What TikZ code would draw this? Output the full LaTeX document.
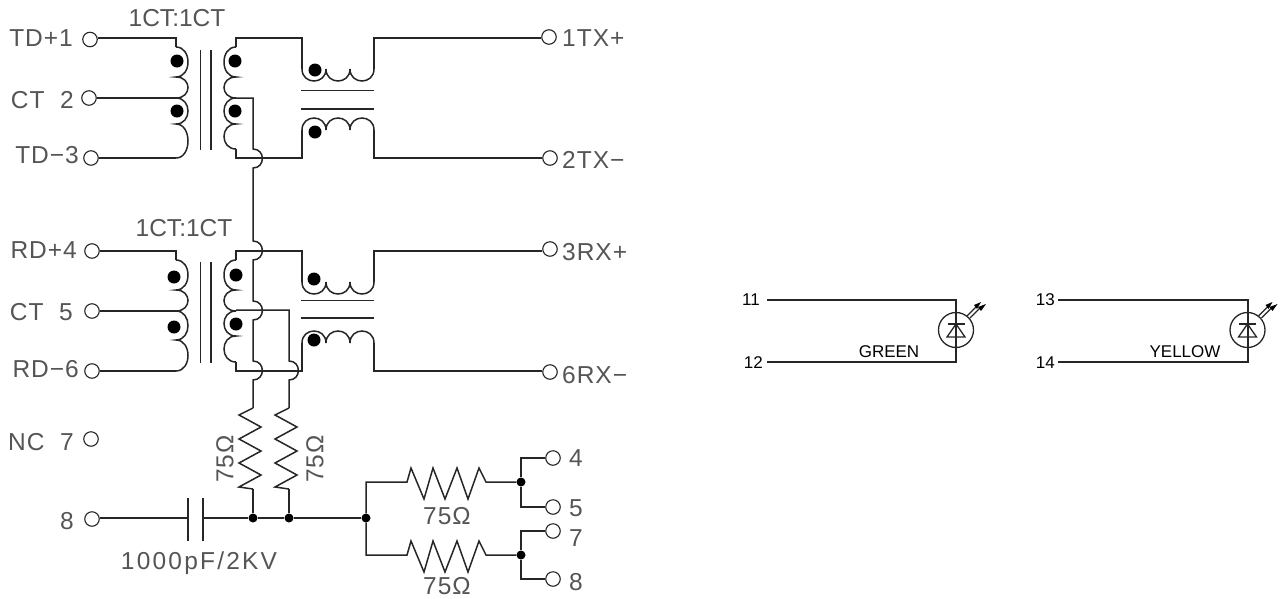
\documentclass[tikz,border=0pt]{standalone}
\usepackage{fontspec}
\setmainfont{Liberation Sans}
\newfontfamily\lblfont[LetterSpace=4]{Liberation Sans}
\newfontfamily\lbltight{Liberation Sans}
\newfontfamily\lblwide[LetterSpace=9]{Liberation Sans}
\definecolor{wire}{HTML}{262626}
\definecolor{lab}{HTML}{555555}
\tikzset{
  wireline/.style={draw=wire,line width=1.5pt,line join=miter},
  term/.style={circle,draw=wire,line width=1.1pt,minimum size=14.5pt,inner sep=0pt,fill=white},
  pol/.style={circle,fill=black,minimum size=13pt,inner sep=0pt},
  junction/.style={circle,fill=black,minimum size=9pt,inner sep=0pt},
  lbl/.style={text=lab,font=\lblfont\fontsize{24.5}{24}\selectfont,inner sep=0pt},
  lbltr/.style={text=lab,font=\lbltight\fontsize{24.5}{24}\selectfont,inner sep=0pt},
  lblw/.style={text=lab,font=\lblwide\fontsize{24.5}{24}\selectfont,inner sep=0pt},
  ledlbl/.style={text=black,font=\fontsize{17}{17}\selectfont,inner sep=0pt},
}
\newcommand{\CoilCol}[6]{% x, y0..y4 ; bulge via \bul
  \draw[wireline] (#1,#2) .. controls +(\bul,0) and +(\bul,0) .. (#1,#3)
    .. controls +(\bul,0) and +(\bul,0) .. (#1,#4)
    .. controls +(\bul,0) and +(\bul,0) .. (#1,#5)
    .. controls +(\bul,0) and +(\bul,0) .. (#1,#6);}
\newcommand{\Small}[3]{% x0 y bulge: three humps
  \draw[wireline] (#1,#2) .. controls +(0,#3) and +(0,#3) .. ++(24,0)
     .. controls +(0,#3) and +(0,#3) .. ++(24,0)
     .. controls +(0,#3) and +(0,#3) .. ++(24,0);}
\newcommand{\Led}[2]{% centre x,y
  \draw[wireline,line width=1.3pt] (#1,#2) circle[radius=17.5];
  \draw[wireline,line width=1.3pt] (#1-8.5,#2-6) -- (#1+8.5,#2-6);
  \draw[wireline,line width=1.3pt] (#1,#2-6) -- (#1-9,#2+7) -- (#1+9,#2+7) -- cycle;
  \draw[wireline,line width=1.1pt] (#1+11,#2-14) -- (#1+21,#2-24);
  \draw[wireline,line width=1.1pt] (#1+14,#2-12) -- (#1+24,#2-22);
  \fill[black] (#1+25,#2-28) -- (#1+18,#2-25) -- (#1+21,#2-21) -- cycle;
  \fill[black] (#1+30,#2-26) -- (#1+22,#2-23) -- (#1+25,#2-19) -- cycle;}
\newcommand{\ResV}[1]{% x
  \draw[wireline] (#1,408) -- (#1-14,415) -- (#1+8,427) -- (#1-14,439) -- (#1+8,451) -- (#1-14,463) -- (#1+8,475) -- (#1-14,487) -- (#1,489);}
\newcommand{\ResH}[1]{% y centre
  (407,#1) -- (411,#1-14) -- (424,#1+17) -- (433,#1-14) -- (445,#1+17) -- (457,#1-14) -- (468,#1+17) -- (479,#1-14) -- (486,#1)}
\begin{document}
\begin{tikzpicture}[x=1pt,y=-1pt]
\useasboundingbox (0,0) rectangle (1285,598);
\def\bul{16}

% --- terminals
\node[term] (t1) at (90,39.5) {};
\node[term] (t2) at (89,98) {};
\node[term] (t3) at (91,158) {};
\node[term] (t4) at (92,251) {};
\node[term] (t5) at (92,311) {};
\node[term] (t6) at (92,371) {};
\node[term] (t7) at (91,439) {};
\node[term] (t8) at (92,519) {};
\node[term] (o1) at (549,37) {};
\node[term] (o2) at (550,158) {};
\node[term] (o3) at (550,249) {};
\node[term] (o6) at (550,372) {};
\node[term] (r4) at (553,458) {};
\node[term] (r5) at (553,507) {};
\node[term] (r7) at (553,531) {};
\node[term] (r8) at (553,579) {};

% --- primaries
\coordinate (w1) at (176,38);
\coordinate (w2) at (176,98);
\coordinate (w3) at (176,158);
\coordinate (w4) at (176,251);
\coordinate (w5) at (176,311);
\coordinate (w6) at (176,371);
\draw[wireline] (t1.east |- w1) -- (w1) -- (176,47);
\CoilCol{176}{47}{77}{98}{124}{158}
\draw[wireline] (t2.east |- w2) -- (w2);
\draw[wireline] (t3.east |- w3) -- (w3);
\draw[wireline] (t4.east |- w4) -- (w4) -- (176,260);
\CoilCol{176}{260}{290}{311}{340}{371}
\draw[wireline] (t5.east |- w5) -- (w5);
\draw[wireline] (t6.east |- w6) -- (w6);

% --- core lines
\foreach \cx in {200.5,211} {
  \draw[wireline] (\cx,50) -- (\cx,150);
  \draw[wireline] (\cx,262) -- (\cx,363);
}

% --- secondaries
\def\bul{-16}
\CoilCol{236}{47}{77}{98}{124}{149}
\CoilCol{236}{260}{290}{311}{336}{362}
\def\bul{16}
\draw[wireline] (236,47) -- (236,38) -- (302,38) -- (302,69);
\draw[wireline] (236,149) -- (236,158) -- (302,158) -- (302,130);
\draw[wireline] (236,260) -- (236,251) -- (302,251) -- (302,282);
\draw[wireline] (236,362) -- (236,371) -- (302,371) -- (302,343);

% --- small transformers
\Small{302}{69}{16}
\Small{302}{130}{-16}
\Small{302}{282}{16}
\Small{302}{343}{-16}
\coordinate (e1) at (374,38);
\coordinate (e2) at (374,158);
\coordinate (e3) at (374,251);
\coordinate (e6) at (374,371);
\draw[wireline] (374,69) -- (e1) -- (o1.west |- e1);
\draw[wireline] (374,130) -- (e2) -- (o2.west |- e2);
\draw[wireline] (374,282) -- (e3) -- (o3.west |- e3);
\draw[wireline] (374,343) -- (e6) -- (o6.west |- e6);
\foreach \yy in {90.5,109,300.5,318} \draw[wireline] (301,\yy) -- (374,\yy);

% --- centre-tap wires with hops
\draw[wireline] (236,98) -- (253,98) -- (253,149) .. controls +(12.5,0) and +(12.5,0) .. (253,168)
   -- (253,241) .. controls +(12.5,0) and +(12.5,0) .. (253,260)
   -- (253,301) .. controls +(12.5,0) and +(12.5,0) .. (253,320)
   -- (253,361) .. controls +(12.5,0) and +(12.5,0) .. (253,380) -- (253,408);
\draw[wireline] (236,310) -- (289,310) -- (289,361) .. controls +(12.5,0) and +(12.5,0) .. (289,380) -- (289,408);

% --- polarity dots
\foreach \nm/\px/\py in {a/177/61,b/177/111,c/235/61,d/235/111,e/315/70,f/315/132,
   g/174/277,h/174/327,i/236/275,j/236/324,k/314/279,l/314/340}
  \node[pol] (dot\nm) at (\px,\py) {};

% --- vertical resistors
\ResV{253}
\ResV{289}

% --- bottom rail
\node[junction] (j1) at (253,518) {};
\node[junction] (j2) at (289,518) {};
\node[junction] (j3) at (366,518) {};
\coordinate (capA) at (188,518);
\coordinate (capB) at (203,518);
\draw[wireline] (t8.east |- capA) -- (capA);
\draw[wireline] (capB) -- (j1) -- (j2) -- (j3);
\draw[wireline] (188,498) -- (188,541);
\draw[wireline] (203,498) -- (203,541);
\draw[wireline] (253,489) -- (j1);
\draw[wireline] (289,489) -- (j2);

% --- horizontal resistors
\node[junction] (j4) at (521,482) {};
\node[junction] (j5) at (521,555) {};
\draw[wireline] (j3) -- (366,482) -- \ResH{482} -- (j4);
\draw[wireline] (j3) -- (366,555) -- \ResH{555} -- (j5);
\draw[wireline] (r4.west) -- (521,458) -- (j4) -- (521,507) -- (r5.west);
\draw[wireline] (r7.west) -- (521,531) -- (j5) -- (521,579) -- (r8.west);

% --- left labels
\node[lbl,anchor=east] (l1) at (73,38) {TD+1};
\node[lbl,anchor=east] (l2) at (74,100) {CT\ \ 2};
\node[lbl,anchor=east] (l3) at (79,155) {TD−3};
\node[lbl,anchor=east] (l4) at (77,250) {RD+4};
\node[lbl,anchor=east] (l5) at (73,312) {CT\ \ 5};
\node[lbl,anchor=east] (l6) at (79,369) {RD−6};
\node[lbl,anchor=east] (l7) at (74,442) {NC\ \ 7};
\node[lbl,anchor=east] (l8) at (74,521) {8};
\node[lbltr] (tr1) at (177,18) {1CT:1CT};
\node[lbltr] (tr2) at (184,228) {1CT:1CT};

% --- right labels
\node[lbl,anchor=west] (n1) at (562,38) {1TX+};
\node[lbl,anchor=west] (n2) at (562,160) {2TX−};
\node[lbl,anchor=west] (n3) at (562,252) {3RX+};
\node[lbl,anchor=west] (n6) at (562,375) {6RX−};
\node[lbl,anchor=west] (m4) at (569,458) {4};
\node[lbl,anchor=west] (m5) at (569,508) {5};
\node[lbl,anchor=west] (m7) at (569,538) {7};
\node[lbl,anchor=west] (m8) at (569,582) {8};

% --- component values
\node[lbl,rotate=90] (v1) at (225,459) {75Ω};
\node[lbl,rotate=90] (v2) at (315,459) {75Ω};
\node[lbl] (v3) at (447,516) {75Ω};
\node[lbl] (v4) at (447,586) {75Ω};
\node[lblw] (v5) at (199,563) {1000pF/2KV};

% --- LED 1
\node[ledlbl,anchor=east] (p11) at (760,300) {11};
\node[ledlbl,anchor=east] (p12) at (763,363) {12};
\coordinate (a1) at (956,300);
\coordinate (b1) at (956,362);
\draw[wireline] ([xshift=7pt]p11.east |- a1) -- (a1) -- (b1) -- ([xshift=4pt]p12.east |- b1);
\Led{956}{330}
\node[ledlbl] (c1) at (889,352) {GREEN};

% --- LED 2
\node[ledlbl,anchor=east] (p13) at (1055,300) {13};
\node[ledlbl,anchor=east] (p14) at (1055,363) {14};
\coordinate (a2) at (1248,300);
\coordinate (b2) at (1248,362);
\draw[wireline] ([xshift=3pt]p13.east |- a2) -- (a2) -- (b2) -- ([xshift=3pt]p14.east |- b2);
\Led{1247.5}{330}
\node[ledlbl] (c2) at (1185,352) {YELLOW};
\end{tikzpicture}
\end{document}
